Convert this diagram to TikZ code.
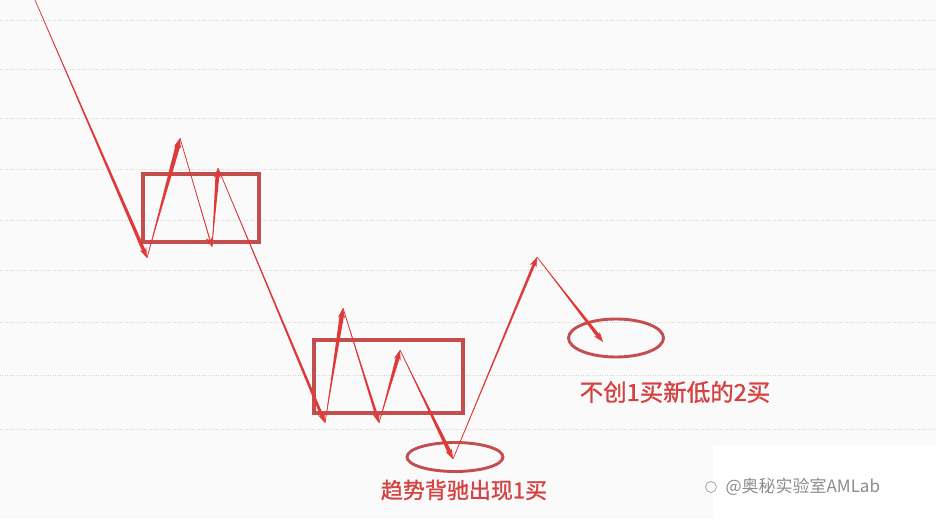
\documentclass[tikz,border=0pt]{standalone}
\usepackage{fontspec}
\usepackage{tikz}
\usetikzlibrary{calc,arrows.meta,shapes.geometric}
\newfontfamily\cjk{Noto Sans CJK SC}
\newfontfamily\cjkheavy[FakeBold=1.2]{Noto Sans CJK SC}
\definecolor{trendred}{RGB}{222,58,58}
\definecolor{boxred}{RGB}{196,78,78}
\definecolor{textred}{RGB}{214,66,66}
% one tapered leg of the move, from #1 to #2, half width #3 at the head
\newcommand{\leg}[3]{%
  \coordinate (e) at ($(#2)!7pt!(#1)$);
  \fill[trendred] (#1) -- ($(e)!#3!90:(#1)$) -- ($(e)!#3!-90:(#1)$) -- cycle;
  \draw[trendred, line width=0.7pt, ->] (#1) -- (#2);}

\begin{document}
\begin{tikzpicture}[x=1pt, y=-1pt, >={Stealth[length=10pt,width=7pt]},
    zone/.style={draw=boxred, line width=3.2pt, inner sep=0pt},
    ring/.style={ellipse, draw=boxred, line width=2.9pt, inner sep=0pt}]
    \useasboundingbox (0,0) rectangle (936,519);
    \fill[black!2] (0,0) rectangle (936,519);
    \fill[white] (713,445) rectangle (936,519);
    \foreach \y in {20,69,118,169,220,270,322,375,429}
      \draw[black!16, dotted] (0,\y) -- (936,\y);

    \node[zone, minimum width=116pt, minimum height=68pt] (zone a) at (201,208) {};
    \node[zone, minimum width=149pt, minimum height=73pt] (zone b) at (388.5,376.5) {};
    \node[ring, minimum width=96pt, minimum height=29pt] (ring a) at (455,457) {};
    \node[ring, minimum width=95pt, minimum height=38pt] (ring b) at (616,338) {};

    \coordinate (start) at (35,0);
    \coordinate (dip1) at (147,258);
    \coordinate (peak1) at (180,138);
    \coordinate (dip2) at (212,247);
    \coordinate (peak2) at (218,168);
    \coordinate (dip3) at (325,423);
    \coordinate (peak3) at (343,308);
    \coordinate (dip4) at (379,423);
    \coordinate (peak4) at (400,350);
    \coordinate (buy one) at (453,459);
    \coordinate (peak5) at (537,257);
    \coordinate (buy two) at (603,342);

    \leg{start}{dip1}{1.8pt}
    \leg{dip1}{peak1}{2.4pt}
    \leg{peak1}{dip2}{0.4pt}
    \leg{dip2}{peak2}{2pt}
    \leg{peak2}{dip3}{1.5pt}
    \leg{dip3}{peak3}{2.2pt}
    \leg{peak3}{dip4}{1.4pt}
    \leg{dip4}{peak4}{2pt}
    \leg{peak4}{buy one}{2pt}
    \leg{buy one}{peak5}{1.4pt}
    \leg{peak5}{buy two}{1.8pt}

    \node[text=textred, font=\cjkheavy\fontsize{22}{24}\selectfont] (buy one text) at (464,490) {趋势背驰出现1买};
    \node[text=textred, font=\cjkheavy\fontsize{23.5}{25}\selectfont] (buy two text) at (675,392) {不创1买新低的2买};
    \draw[black!35, line width=0.8pt] (711,487) circle (5.5);
    \node[text=black!45, font=\cjk\fontsize{17}{19}\selectfont, anchor=west] (mark) at (722,487) {@奥秘实验室AMLab};
\end{tikzpicture}
\end{document}
